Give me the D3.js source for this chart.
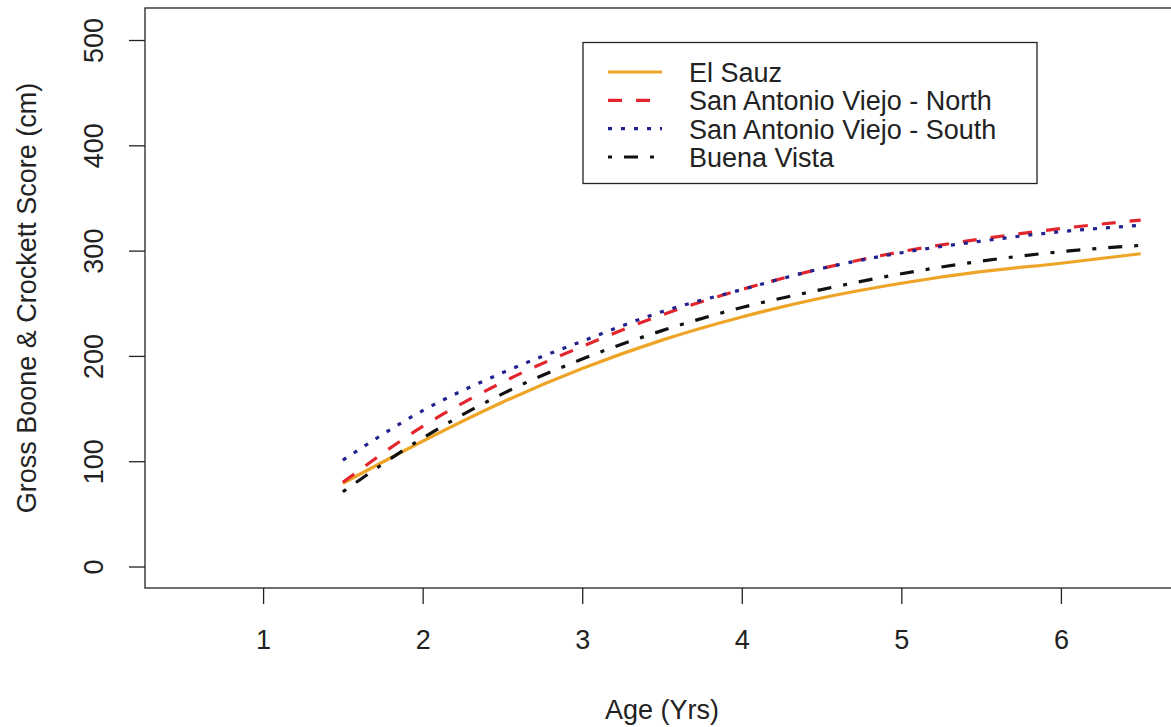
<!DOCTYPE html>
<html>
<head>
<meta charset="utf-8">
<script src="https://cdn.jsdelivr.net/npm/d3@7"></script>
<style>
  body { margin: 0; background: #fff; }
  text { font-family: "Liberation Sans", Arial, sans-serif; fill: #222; }
</style>
</head>
<body>
<script>
const width = 1171, height = 727;

// ages (yrs) at which the curves were read
const ages = [1.5, 2, 2.5, 3, 3.5, 4, 4.5, 5, 5.5, 6, 6.5];
const elSauz = [79, 119, 156, 188, 215, 237, 255, 269, 280, 288, 297];
const savNorth = [80, 133, 175, 209, 239, 263, 283, 299, 311, 321, 329];
const savSouth = [101, 148, 184, 214, 242, 263, 283, 298, 309, 318, 324];
const buenaVista = [71, 122, 164, 197, 224, 246, 263, 278, 290, 299, 305];

const seriesNames = ['El Sauz', 'San Antonio Viejo - North', 'San Antonio Viejo - South', 'Buena Vista'];
const xTicks = [1, 2, 3, 4, 5, 6];
const yTicks = [0, 100, 200, 300, 400, 500];

const series = [
    { name: seriesNames[0], values: elSauz, color: '#eea527', dash: null },
    { name: seriesNames[1], values: savNorth, color: '#e3262e', dash: '14,14' },
    { name: seriesNames[2], values: savSouth, color: '#22228f', dash: '4,9' },
    { name: seriesNames[3], values: buenaVista, color: '#111', dash: '4,12,14,12' }
];

const plotLeft = 145, plotRight = 1179, plotTop = 8, plotBottom = 588;

const svg = d3.select('body').append('svg')
    .attr('width', width)
    .attr('height', height);

svg.append('rect').attr('width', width).attr('height', height).attr('fill', '#fff');

const x = d3.scaleLinear().domain([0.26, 6.74]).range([plotLeft, plotRight]);
const y = d3.scaleLinear().domain([-20.4, 530.4]).range([plotBottom, plotTop]);

// plot box
svg.append('rect')
    .attr('x', plotLeft).attr('y', plotTop)
    .attr('width', plotRight - plotLeft).attr('height', plotBottom - plotTop)
    .attr('fill', 'none').attr('stroke', '#222').attr('stroke-width', 1.3);

const xAxis = svg.append('g')
    .attr('transform', 'translate(0,' + plotBottom + ')')
    .call(d3.axisBottom(x).tickValues(xTicks).tickFormat(d3.format('d')).tickSize(16).tickPadding(26));
xAxis.select('.domain').remove();
xAxis.selectAll('line').attr('stroke', '#222').attr('stroke-width', 1.3);
xAxis.selectAll('text').attr('font-size', 27).attr('fill', '#222')
    .style('font-family', '"Liberation Sans", Arial, sans-serif');

const yAxis = svg.append('g')
    .attr('transform', 'translate(' + plotLeft + ',0)')
    .call(d3.axisLeft(y).tickValues(yTicks).tickFormat(d3.format('d')).tickSize(16));
yAxis.select('.domain').remove();
yAxis.selectAll('line').attr('stroke', '#222').attr('stroke-width', 1.3);
yAxis.selectAll('text')
    .attr('x', 0).attr('dy', 0)
    .attr('transform', 'translate(-42,0) rotate(-90)')
    .attr('text-anchor', 'middle')
    .attr('font-size', 27).attr('fill', '#222')
    .style('font-family', '"Liberation Sans", Arial, sans-serif');

// axis titles
svg.append('text')
    .attr('x', (plotLeft + plotRight) / 2).attr('y', 719)
    .attr('text-anchor', 'middle').attr('font-size', 27)
    .text('Age (Yrs)');

svg.append('text')
    .attr('transform', 'translate(36,' + (plotTop + plotBottom) / 2 + ') rotate(-90)')
    .attr('text-anchor', 'middle').attr('font-size', 27)
    .text('Gross Boone & Crockett Score (cm)');

// curves
const line = d3.line()
    .x((d, i) => x(ages[i]))
    .y(d => y(d))
    .curve(d3.curveMonotoneX);

const plot = svg.append('g');
series.forEach(s => {
    plot.append('path')
        .datum(s.values)
        .attr('d', line)
        .attr('fill', 'none')
        .attr('stroke', s.color)
        .attr('stroke-width', 3.2)
        .attr('stroke-dasharray', s.dash)
        .attr('stroke-linecap', 'butt');
});

// legend
const legend = svg.append('g');
legend.append('rect')
    .attr('x', 583).attr('y', 42.5)
    .attr('width', 454).attr('height', 141)
    .attr('fill', '#fff').attr('stroke', '#222').attr('stroke-width', 1.3);

const rowY = d3.scalePoint().domain(seriesNames).range([72, 157]);
series.forEach(s => {
    legend.append('line')
        .attr('x1', 608).attr('x2', 662)
        .attr('y1', rowY(s.name)).attr('y2', rowY(s.name))
        .attr('stroke', s.color).attr('stroke-width', 3.2)
        .attr('stroke-dasharray', s.dash);
    legend.append('text')
        .attr('x', 689).attr('y', rowY(s.name) + 10)
        .attr('font-size', 27)
        .text(s.name);
});
</script>
</body>
</html>
